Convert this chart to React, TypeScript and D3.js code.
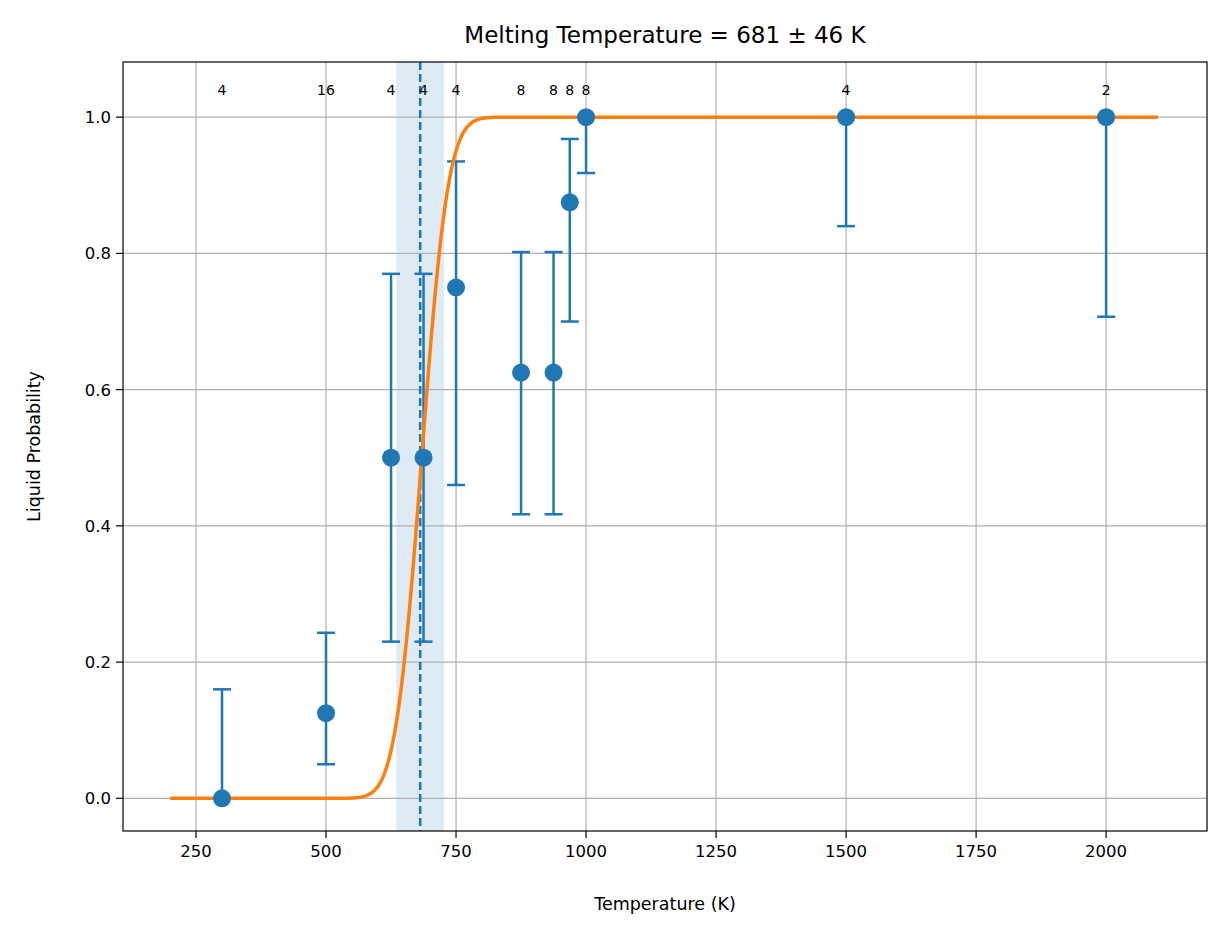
import * as React from "react";
import * as d3 from "d3";

const temps = [300, 500, 625, 687.5, 750, 875, 937.5, 968.75, 1000, 1500, 2000];
const probs = [0, 0.125, 0.5, 0.5, 0.75, 0.625, 0.625, 0.875, 1, 1, 1];
const errLow = [0, 0.05, 0.23, 0.23, 0.46, 0.417, 0.417, 0.70, 0.918, 0.84, 0.707];
const errHigh = [0.16, 0.243, 0.77, 0.77, 0.935, 0.802, 0.802, 0.968, 1, 1, 1];
const counts = [4, 16, 4, 4, 4, 8, 8, 8, 8, 4, 2];
const meltT = 681;
const meltSigma = 46;
const fitWidth = 40;
const xTicks = [250, 500, 750, 1000, 1250, 1500, 1750, 2000];
const yTicks = [0, 0.2, 0.4, 0.6, 0.8, 1.0];

// normal CDF via erf approximation
function erf(z: number) {
  const t = 1 / (1 + 0.3275911 * Math.abs(z));
  const y = 1 - (((((1.061405429 * t - 1.453152027) * t) + 1.421413741) * t - 0.284496736) * t + 0.254829592) * t * Math.exp(-z * z);
  return z >= 0 ? y : -y;
}

const App: React.FC = () => {
  const width = 1227, height = 939;
  const m = {left: 123, right: 1207, top: 62, bottom: 831};
  const x = d3.scaleLinear().domain([109.6, 2194]).range([m.left, m.right]);
  const y = d3.scaleLinear().domain([-0.048, 1.081]).range([m.bottom, m.top]);
  const curveT = d3.range(200, 2101, 2);
  const fit = d3.line<number>()
    .x(t => x(t))
    .y(t => y(0.5 * (1 + erf((t - meltT - 3) / (fitWidth * Math.SQRT2)))));
  const font = "DejaVu Sans, sans-serif";
  const blue = "#1f77b4";

  return (
    <svg width={width} height={height} style={{position: "absolute", left: 0, top: 0}} fontFamily={font}>
      <rect width={width} height={height} fill="white" />
      <rect x={x(meltT - meltSigma)} y={m.top} width={x(meltT + meltSigma) - x(meltT - meltSigma)}
            height={m.bottom - m.top} fill={blue} opacity={0.15} />
      {xTicks.map(t => (
        <g key={t}>
          <line x1={x(t)} x2={x(t)} y1={m.top} y2={m.bottom} stroke="#b0b0b0" strokeWidth={1.2} />
          <line x1={x(t)} x2={x(t)} y1={m.bottom} y2={m.bottom + 7} stroke="black" strokeWidth={1.2} />
          <text x={x(t)} y={m.bottom + 26} textAnchor="middle" fontSize={16.5}>{t}</text>
        </g>
      ))}
      {yTicks.map(v => (
        <g key={v}>
          <line x1={m.left} x2={m.right} y1={y(v)} y2={y(v)} stroke="#b0b0b0" strokeWidth={1.2} />
          <line x1={m.left - 7} x2={m.left} y1={y(v)} y2={y(v)} stroke="black" strokeWidth={1.2} />
          <text x={m.left - 12} y={y(v) + 6} textAnchor="end" fontSize={16.5}>{v.toFixed(1)}</text>
        </g>
      ))}
      <line x1={x(meltT)} x2={x(meltT)} y1={m.top} y2={m.bottom} stroke={blue} strokeWidth={2.5} strokeDasharray="8,4" />
      {temps.map((t, i) => (
        <g key={i} stroke={blue} strokeWidth={2.5}>
          <line x1={x(t)} x2={x(t)} y1={y(errLow[i])} y2={y(errHigh[i])} />
          <line x1={x(t) - 9} x2={x(t) + 9} y1={y(errLow[i])} y2={y(errLow[i])} />
          <line x1={x(t) - 9} x2={x(t) + 9} y1={y(errHigh[i])} y2={y(errHigh[i])} />
        </g>
      ))}
      <path d={fit(curveT) ?? ""} fill="none" stroke="#ff7f0e" strokeWidth={3.5} />
      {temps.map((t, i) => (
        <circle key={i} cx={x(t)} cy={y(probs[i])} r={9} fill={blue} />
      ))}
      {temps.map((t, i) => (
        <text key={i} x={x(t)} y={y(1.04) + 5} textAnchor="middle" fontSize={14}>{counts[i]}</text>
      ))}
      <rect x={m.left} y={m.top} width={m.right - m.left} height={m.bottom - m.top} fill="none" stroke="black" strokeWidth={1.2} />
      <text x={(m.left + m.right) / 2} y={43} textAnchor="middle" fontSize={23}>Melting Temperature = 681 ± 46 K</text>
      <text x={(m.left + m.right) / 2} y={910} textAnchor="middle" fontSize={17.5}>Temperature (K)</text>
      <text transform={`translate(40,${(m.top + m.bottom) / 2}) rotate(-90)`} textAnchor="middle" fontSize={17.5}>Liquid Probability</text>
    </svg>
  );
};

export default App;
